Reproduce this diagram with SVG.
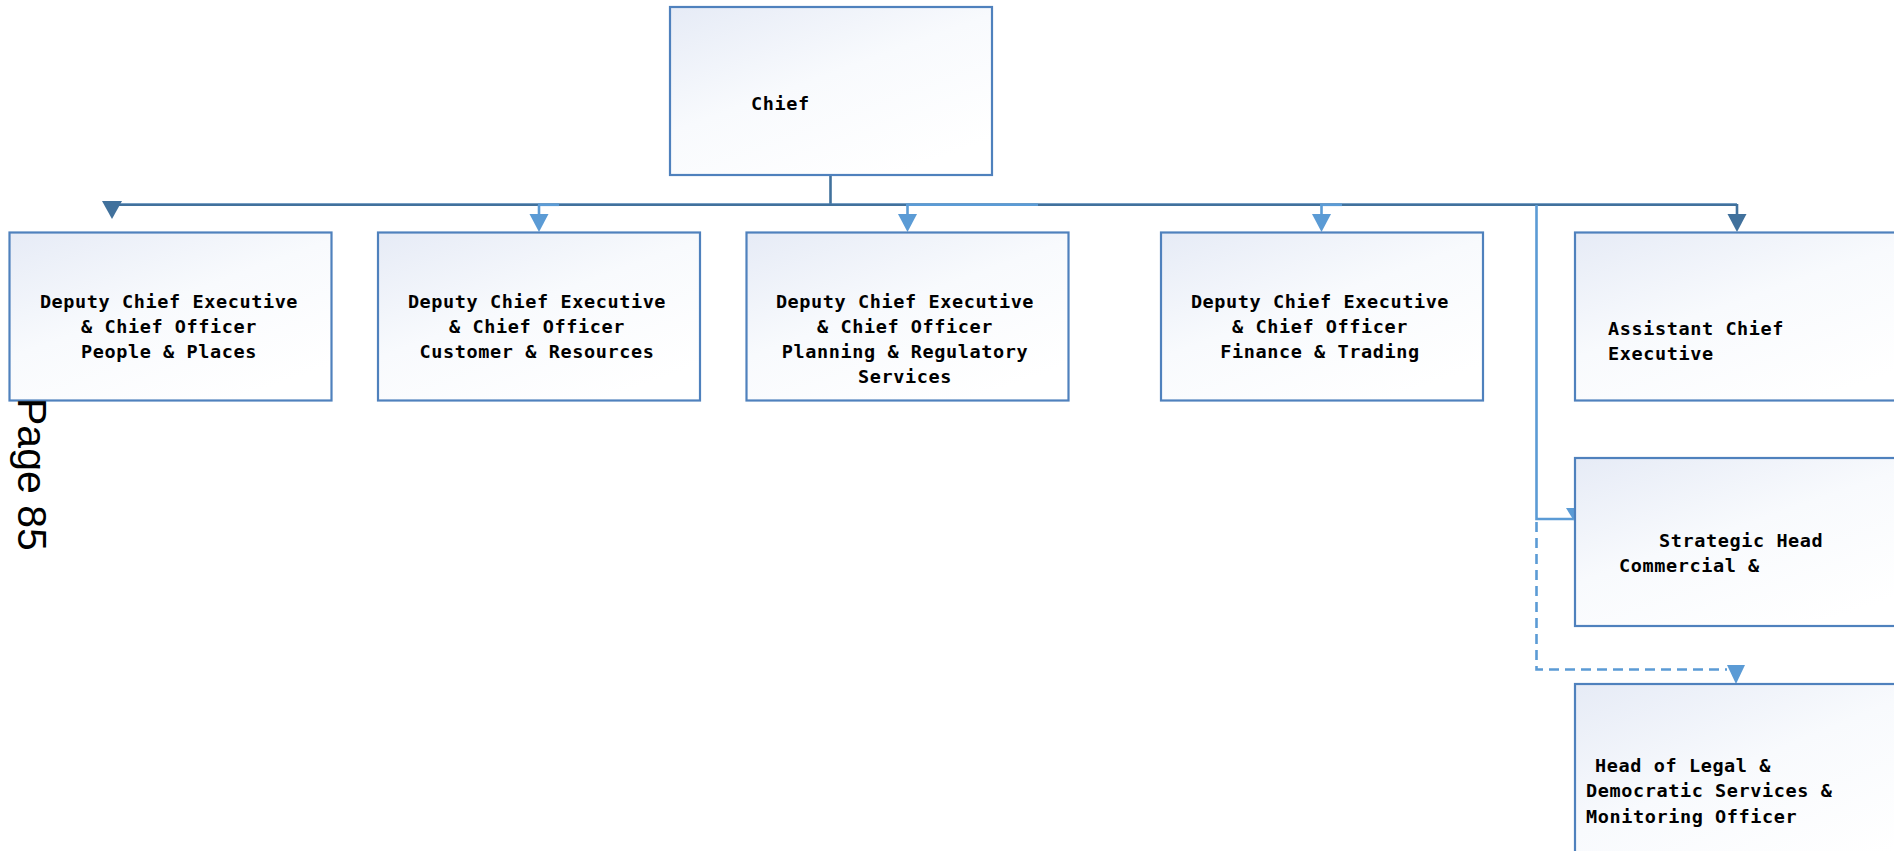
<svg xmlns="http://www.w3.org/2000/svg" width="1894" height="851" viewBox="0 0 1894 851">
<defs>
<linearGradient id="boxfill" x1="0" y1="0" x2="0.7" y2="1">
<stop offset="0" stop-color="#E6EBF6"/>
<stop offset="0.5" stop-color="#F8FAFD"/>
<stop offset="1" stop-color="#FFFFFF"/>
</linearGradient>
<style>
.box{fill:url(#boxfill);stroke:#4F81BD;stroke-width:2.2}
.t{font-family:"DejaVu Sans Mono","Liberation Mono",monospace;font-weight:bold;font-size:18.5px;letter-spacing:0.6px;fill:#000}
.c{text-anchor:middle}
.dark{stroke:#41719C;stroke-width:2.6;fill:none}
.light{stroke:#5B9BD5;stroke-width:2.6;fill:none}
.dash{stroke:#5B9BD5;stroke-width:2.6;fill:none;stroke-dasharray:10 6}
.ahd{fill:#41719C}
.ahl{fill:#5B9BD5}
.page{font-family:"Liberation Sans",Arial,sans-serif;font-size:41px;fill:#000}
</style>
</defs>
<rect width="1894" height="851" fill="#FFFFFF"/>

<g id="connectors">
<line class="dark" x1="830.5" y1="175" x2="830.5" y2="205"/>
<line class="light" x1="112" y1="204.8" x2="1737" y2="204.8" stroke-width="3.6"/>
<line class="dark" x1="112" y1="204.8" x2="1737" y2="204.8" stroke-width="2"/>
<line class="light" x1="538" y1="204.8" x2="559" y2="204.8" stroke-width="3"/>
<line class="light" x1="906" y1="204.8" x2="1038" y2="204.8" stroke-width="3"/>
<line class="light" x1="1320" y1="204.8" x2="1342" y2="204.8" stroke-width="3"/>
<polygon class="ahd" points="102,201 122,201 112,219"/>
<line class="light" x1="539" y1="205" x2="539" y2="216"/>
<polygon class="ahl" points="529.5,214 548.5,214 539,232"/>
<line class="light" x1="907.5" y1="205" x2="907.5" y2="216"/>
<polygon class="ahl" points="898,214 917,214 907.5,232"/>
<line class="light" x1="1321.5" y1="205" x2="1321.5" y2="216"/>
<polygon class="ahl" points="1312,214 1331,214 1321.5,232"/>
<line class="dark" x1="1737" y1="204" x2="1737" y2="216"/>
<polygon class="ahd" points="1727.5,214 1746.5,214 1737,232"/>
<polyline class="light" points="1536.5,205 1536.5,519 1573,519"/>
<polygon class="ahl" points="1566,508 1575,508 1574,521"/>
<polyline class="dash" points="1536.5,522 1536.5,669.5 1727,669.5"/>
<polygon class="ahl" points="1727,665 1745,665 1736,684"/>
</g>

<g id="chief">
<rect class="box" x="670" y="7" width="322" height="168"/>
<text class="t" x="751" y="110">Chief</text>
</g>

<g id="dce-people">
<rect class="box" x="9.5" y="232.5" width="322" height="168"/>
<text class="t c" x="169" y="308">Deputy Chief Executive</text>
<text class="t c" x="169" y="333">&amp; Chief Officer</text>
<text class="t c" x="169" y="358">People &amp; Places</text>
</g>

<g id="dce-customer">
<rect class="box" x="378" y="232.5" width="322" height="168"/>
<text class="t c" x="537" y="308">Deputy Chief Executive</text>
<text class="t c" x="537" y="333">&amp; Chief Officer</text>
<text class="t c" x="537" y="358">Customer &amp; Resources</text>
</g>

<g id="dce-planning">
<rect class="box" x="746.5" y="232.5" width="322" height="168"/>
<text class="t c" x="905" y="308">Deputy Chief Executive</text>
<text class="t c" x="905" y="333">&amp; Chief Officer</text>
<text class="t c" x="905" y="358">Planning &amp; Regulatory</text>
<text class="t c" x="905" y="383">Services</text>
</g>

<g id="dce-finance">
<rect class="box" x="1161" y="232.5" width="322" height="168"/>
<text class="t c" x="1320" y="308">Deputy Chief Executive</text>
<text class="t c" x="1320" y="333">&amp; Chief Officer</text>
<text class="t c" x="1320" y="358">Finance &amp; Trading</text>
</g>

<g id="assistant-ce">
<rect class="box" x="1575" y="232.5" width="340" height="168"/>
<text class="t" x="1608" y="335">Assistant Chief</text>
<text class="t" x="1608" y="360">Executive</text>
</g>

<g id="strategic-head">
<rect class="box" x="1575" y="458" width="340" height="168"/>
<text class="t" x="1659" y="547">Strategic Head</text>
<text class="t" x="1619" y="572">Commercial &amp;</text>
</g>

<g id="head-legal">
<rect class="box" x="1575" y="684" width="340" height="200"/>
<text class="t" x="1595" y="772">Head of Legal &amp;</text>
<text class="t" x="1586" y="797">Democratic Services &amp;</text>
<text class="t" x="1586" y="823">Monitoring Officer</text>
</g>

<text class="page" transform="translate(18,398) rotate(90)">Page 85</text>
</svg>
